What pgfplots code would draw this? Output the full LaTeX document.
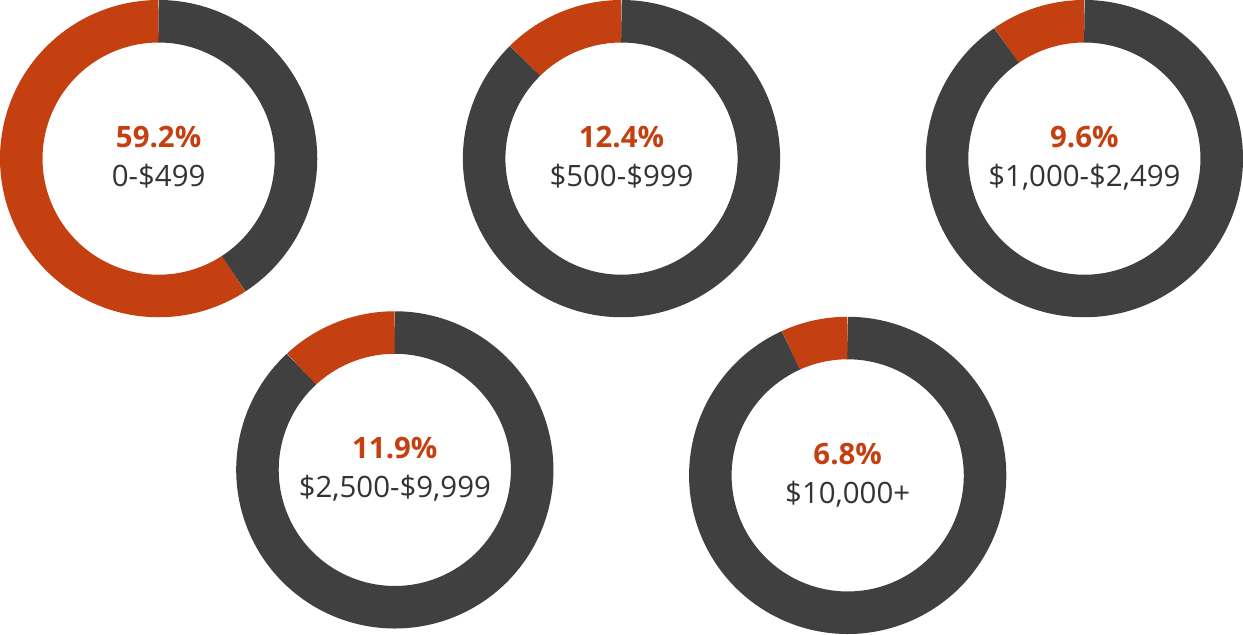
\documentclass[border=0pt]{standalone}
\usepackage{pgfplots}
\pgfplotsset{compat=1.18}
\usepackage{fontspec}
\setmainfont{Open Sans}
\definecolor{orng}{HTML}{C44011}
\definecolor{gry}{HTML}{404040}
\definecolor{txt}{HTML}{333333}
% #1 cx, #2 cy (axis units = bp), #3 percent, #4 label
\newcommand{\donut}[4]{%
  \addplot[draw=orng, line width=42.5bp, line cap=butt, line join=round,
    domain=90:{90+3.6*#3}, samples=200] ({#1+137.25*cos(x)},{#2+137.25*sin(x)});
  \addplot[draw=gry, line width=42.5bp, line cap=butt, line join=round,
    domain={90+3.6*#3}:450, samples=200] ({#1+137.25*cos(x)},{#2+137.25*sin(x)});
  \node[anchor=base, text=orng, font=\fontsize{29.5}{32}\selectfont\bfseries, inner sep=0pt] at (axis cs:#1,#2+11) {#3\%};
  \node[anchor=base, text=txt, font=\fontsize{29.5}{32}\selectfont, inner sep=0pt] at (axis cs:#1,#2-28) {#4};
}
\begin{document}
\begin{tikzpicture}
\begin{axis}[width=1243bp, height=634bp, scale only axis,
  xmin=0, xmax=1243, ymin=0, ymax=634, hide axis, clip=false]
\donut{159}{475}{59.2}{0-\$499}
\donut{621.5}{475}{12.4}{\$500-\$999}
\donut{1084}{475}{9.6}{\$1,000-\$2,499}
\donut{395}{164}{11.9}{\$2,500-\$9,999}
\donut{847.5}{158.5}{6.8}{\$10,000+}
\end{axis}
\end{tikzpicture}
\end{document}
